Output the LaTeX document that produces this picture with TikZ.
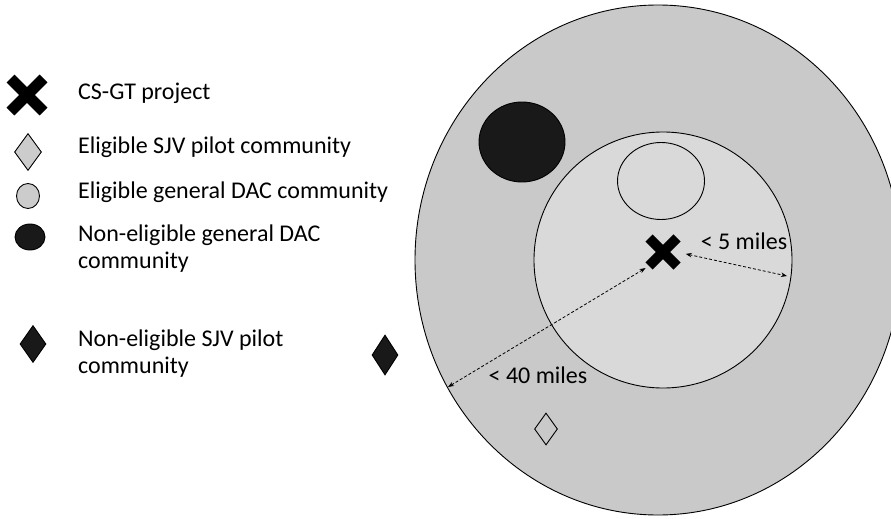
\documentclass[tikz,border=0pt]{standalone}
\usepackage{fontspec}
\setmainfont{Carlito}
\usetikzlibrary{shapes.geometric,shapes.misc,arrows.meta}
\definecolor{farzone}{gray}{0.79}
\definecolor{nearzone}{gray}{0.85}
\definecolor{okfill}{gray}{0.80}
\definecolor{darkspot}{gray}{0.10}

\begin{document}
\begin{tikzpicture}[x=1pt,y=-1pt,
    every node/.style={font=\fontsize{24}{27}\selectfont},
    legendtext/.style={anchor=west,align=left,inner sep=0pt},
    projx/.style={draw,cross out,line width=10pt,minimum size=18pt,inner sep=0pt},
    sjvgem/.style={draw,diamond,aspect=0.7,inner sep=0pt,line width=0.9pt},
    dacspot/.style={draw,ellipse,inner sep=0pt,line width=0.9pt},
    rangearrow/.style={<->,>={Stealth[length=6pt,width=4.5pt]},
      dash pattern=on 3pt off 2pt,line width=0.8pt}]
    \useasboundingbox (0,0) rectangle (891,519);

    % Map:
    \node[dacspot,fill=farzone,minimum width=486pt,minimum height=510pt] (far) at (658,260) {};
    \node[dacspot,fill=nearzone,minimum width=258pt,minimum height=256pt] (near) at (663,260) {};
    \node[dacspot,fill=nearzone,minimum width=87pt,minimum height=77pt] (okdac) at (661,181) {};
    \node[dacspot,fill=darkspot,minimum width=86pt,minimum height=80pt] (nodac) at (522,142) {};
    \node[sjvgem,fill=darkspot,minimum width=26pt,minimum height=40pt] (nosjv) at (385,355) {};
    \node[sjvgem,minimum width=23pt,minimum height=32pt] (oksjv) at (546,429) {};
    \node[projx] (proj) at (663,252) {};

    % Range arrows:
    \coordinate (rim40) at (448,387);
    \coordinate (rim5) at (787,276);
    \draw[rangearrow,shorten <=4pt] (proj.south west) -- (rim40);
    \draw[rangearrow,shorten <=9pt] (proj.east) -- (rim5);
    \node (lbl5) at (744,241) {< 5 miles};
    \node (lbl40) at (538,375) {< 40 miles};

    % Legend:
    \node[projx,minimum size=22pt,line width=11pt] (keyproj) at (27,95) {};
    \node[sjvgem,fill=okfill,minimum width=27pt,minimum height=37pt] (keysjv) at (28,152) {};
    \node[dacspot,fill=okfill,minimum width=23pt,minimum height=25pt] (keydac) at (28,196) {};
    \node[dacspot,fill=darkspot,minimum width=30pt,minimum height=26pt] (keynodac) at (30,237) {};
    \node[sjvgem,fill=darkspot,minimum width=26pt,minimum height=37pt] (keynosjv) at (33,344) {};
    \node[legendtext] (txtproj) at (78,93) {CS-GT project};
    \node[legendtext] (txtsjv) at (78,147) {Eligible SJV pilot community};
    \node[legendtext] (txtdac) at (78,192) {Eligible general DAC community};
    \node[legendtext] (txtnodac) at (78,249) {Non-eligible general DAC\\community};
    \node[legendtext] (txtnosjv) at (78,354) {Non-eligible SJV pilot\\community};
\end{tikzpicture}
\end{document}
